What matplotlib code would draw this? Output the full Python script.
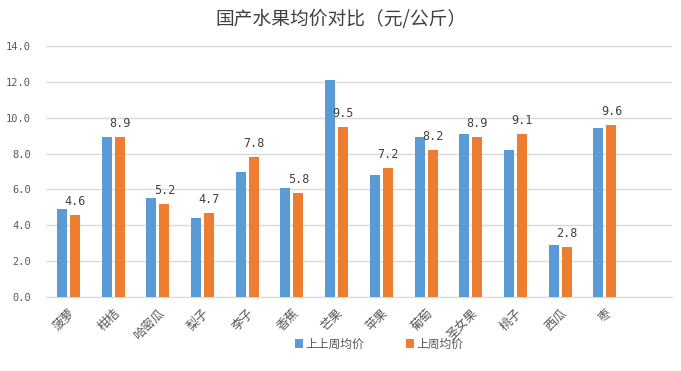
import matplotlib
matplotlib.use('Agg')
import matplotlib.pyplot as plt
import numpy as np

### data
categories = ['菠萝', '柑桔', '哈密瓜', '梨子', '李子', '香蕉', '芒果',
              '苹果', '葡萄', '圣女果', '桃子', '西瓜', '枣']
prev2_week = [4.9, 8.9, 5.5, 4.4, 7.0, 6.1, 12.1, 6.8, 8.9, 9.1, 8.2, 2.9, 9.4]
prev_week = [4.6, 8.9, 5.2, 4.7, 7.8, 5.8, 9.5, 7.2, 8.2, 8.9, 9.1, 2.8, 9.6]
series_names = ['上上周均价', '上周均价']
title = '国产水果均价对比（元/公斤）'

### style
plt.rcParams['font.family'] = ['Noto Sans CJK SC', 'DejaVu Sans']
blue = '#5b9bd5'
orange = '#ed7d31'
gridcolor = '#d9d9d9'
textcolor = '#595959'
numfont = ['DejaVu Sans Mono', 'Noto Sans CJK SC']

bar_w = 0.225
offset = 0.146

fig = plt.figure(figsize=(6.81, 3.71), dpi=100)
ax = fig.add_axes([46/681, 1 - 297/371, 626/681, 251/371])

x = np.arange(len(categories))
b1 = ax.bar(x - offset, prev2_week, bar_w, color=blue, label=series_names[0], zorder=3)
b2 = ax.bar(x + offset, prev_week, bar_w, color=orange, label=series_names[1], zorder=3)

# data labels only for last week
for xi, v in zip(x, prev_week):
    ax.annotate('%.1f' % v, (xi + offset, v), xytext=(0, 5), textcoords='offset points',
                ha='center', va='bottom', fontsize=8.5, color='#404040', family=numfont)

ax.set_xlim(-0.5, 13.5)
ax.set_ylim(0, 14)
yt = np.arange(0, 14.1, 2)
ax.set_yticks(yt)
ax.set_yticklabels(['%.1f' % t for t in yt], family=numfont, fontsize=7.5, color=textcolor)
ax.set_xticks(x)
ax.set_xticklabels(categories, rotation=45, ha='right', rotation_mode='anchor',
                   fontsize=9, color=textcolor)
ax.tick_params(axis='both', length=0)
ax.tick_params(axis='y', pad=11)
ax.tick_params(axis='x', pad=7)

ax.grid(axis='y', color=gridcolor, linewidth=1, zorder=0)
for s in ['top', 'right', 'left']:
    ax.spines[s].set_visible(False)
ax.spines['bottom'].set_color(gridcolor)
ax.spines['bottom'].set_zorder(1)

fig.text(0.5, 1 - 19/371, title, ha='center', va='center', fontsize=13.5, color='#404040')

fig.legend(handles=[b1, b2], loc='center', bbox_to_anchor=(0.557, 1 - 344/371), ncol=2,
           frameon=False, fontsize=8.5, handlelength=0.7, handleheight=0.7,
           handletextpad=0.2, columnspacing=3.5, labelcolor=textcolor)

plt.savefig('out.png', dpi=100)
plt.close()
